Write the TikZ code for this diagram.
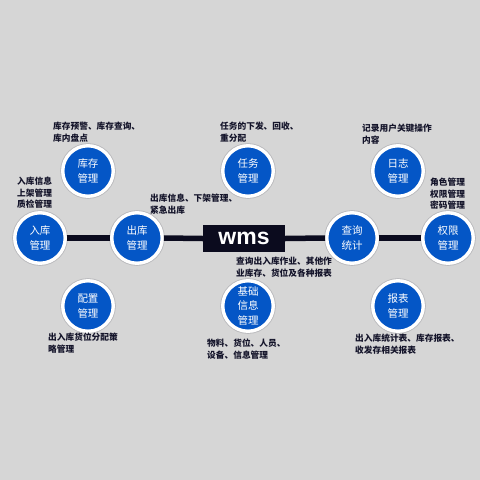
\documentclass[tikz,border=0pt]{standalone}
\usepackage{fontspec}
\setmainfont{Liberation Sans}
\newfontfamily\cjk{Noto Sans CJK SC}
\begin{document}
\begin{tikzpicture}[x=1pt,y=-1pt,
  mod/.style={circle,minimum size=50.5pt,inner sep=0pt,fill=modblue,draw=white,line width=3.4pt,
    text=white,font=\cjk\fontsize{10.5}{14.5}\selectfont,align=center},
  ring/.style={circle,minimum size=55pt,inner sep=0pt,draw=ringgray,line width=0.6pt},
  lbl/.style={anchor=north west,inner sep=0pt,align=left,text=labtext,
    font=\cjk\bfseries\fontsize{8.7}{11.5}\selectfont},
  bar/.style={line width=5.5pt,draw=barcol}]
\definecolor{bg}{HTML}{D6D6D6}
\definecolor{modblue}{HTML}{0456C6}
\definecolor{barcol}{HTML}{0B0B1E}
\definecolor{labtext}{HTML}{14142A}
\definecolor{ringgray}{HTML}{B8B8BC}
\fill[bg] (0,0) rectangle (480,480);
\useasboundingbox (0,0) rectangle (480,480);
% modules
\node[mod] (ru) at (40,238) {入库\\管理};
\node[mod] (chu) at (137,238) {出库\\管理};
\node[mod] (kc) at (88,171) {库存\\管理};
\node[mod] (pz) at (88,306) {配置\\管理};
\node[mod] (rw) at (248,171) {任务\\管理};
\node[mod] (jc) at (248,306) {基础\\信息\\管理};
\node[mod] (cx) at (352,238) {查询\\统计};
\node[mod] (rz) at (398,171) {日志\\管理};
\node[mod] (qx) at (448,238) {权限\\管理};
\node[mod] (bb) at (398,306) {报表\\管理};
\foreach \n in {ru,chu,kc,pz,rw,jc,cx,rz,qx,bb}
  \node[ring] at (\n.center) {};
\node[fill=barcol,minimum width=82pt,minimum height=27pt,inner sep=0pt,text=white,
  font=\fontsize{23}{23}\selectfont\bfseries] (wms) at (244,238.5) {wms};
% labels
\node[lbl] (l1) at (53,122) {库存预警、库存查询、\\库内盘点};
\node[lbl] (l2) at (220,122) {任务的下发、回收、\\重分配};
\node[lbl] (l3) at (362,124) {记录用户关键操作\\内容};
\node[lbl] (l4) at (17,177) {入库信息\\上架管理\\质检管理};
\node[lbl] (l5) at (150,194) {出库信息、下架管理、\\紧急出库};
\node[lbl] (l6) at (430,178) {角色管理\\权限管理\\密码管理};
\node[lbl] (l7) at (236,257) {查询出入库作业、其他作\\业库存、货位及各种报表};
\node[lbl] (l8) at (48,333) {出入库货位分配策\\略管理};
\node[lbl] (l9) at (207,339) {物料、货位、人员、\\设备、信息管理};
\node[lbl] (l10) at (355,334) {出入库统计表、库存报表、\\收发存相关报表};
% connectors
\draw[bar] (ru.east) -- (chu.west);
\draw[bar] (chu.east) -- (wms.west);
\draw[bar] (wms.east) -- (cx.west);
\draw[bar] (cx.east) -- (qx.west);
\end{tikzpicture}
\end{document}
